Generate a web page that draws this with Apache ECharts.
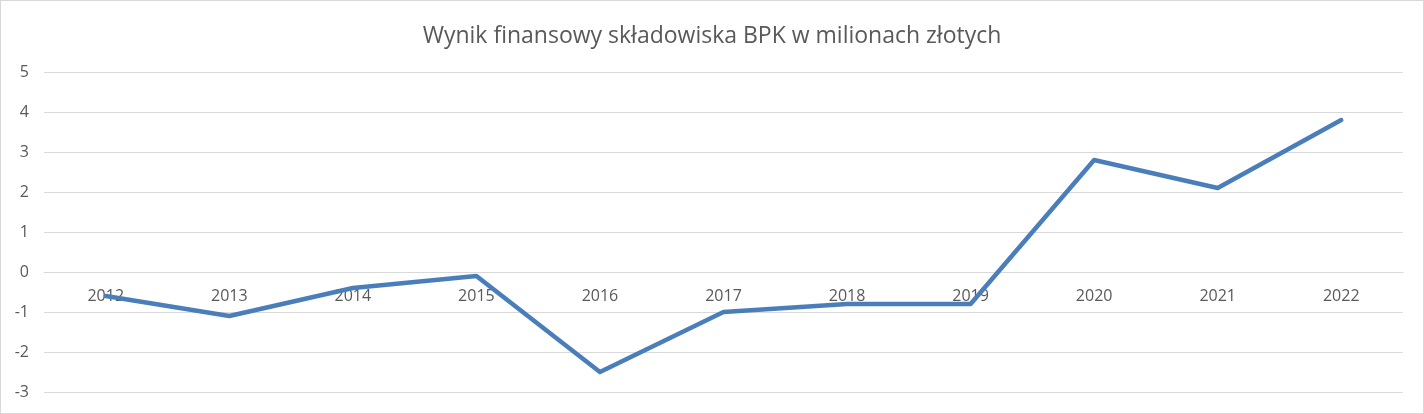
<!DOCTYPE html>
<html>
<head>
<meta charset="utf-8">
<script src="https://cdn.jsdelivr.net/npm/echarts@6/dist/echarts.min.js"></script>
<style>
html,body{margin:0;padding:0;background:#fff;}
#chart{width:1424px;height:414px;box-sizing:border-box;border:1px solid #d9d9d9;}
</style>
</head>
<body>
<div id="chart"></div>
<script>
const years = ['2012','2013','2014','2015','2016','2017','2018','2019','2020','2021','2022'];
const wynik = [-0.6, -1.1, -0.4, -0.1, -2.5, -1.0, -0.8, -0.8, 2.8, 2.1, 3.8];
const titleText = 'Wynik finansowy składowiska BPK w milionach złotych';

const chart = echarts.init(document.getElementById('chart'));
chart.setOption({
  animation: false,
  backgroundColor: '#ffffff',
  title: {
    text: titleText,
    left: 'center',
    top: 19,
    textStyle: { fontFamily: 'Open Sans', fontSize: 23, fontWeight: 'normal', color: '#595959' }
  },
  grid: { left: 43, right: 20, top: 71, bottom: 21, containLabel: false, outerBoundsMode: 'none' },
  xAxis: {
    type: 'category',
    data: years,
    boundaryGap: true,
    offset: -120,
    axisLine: { show: true, onZero: false, lineStyle: { color: '#d9d9d9', width: 1 } },
    axisTick: { show: false },
    axisLabel: { color: '#595959', fontFamily: 'Open Sans', fontSize: 16, margin: 16 },
    splitLine: { show: false }
  },
  yAxis: {
    type: 'value',
    min: -3, max: 5, interval: 1,
    axisLine: { show: false },
    axisTick: { show: false },
    axisLabel: { color: '#595959', fontFamily: 'Open Sans', fontSize: 16, margin: 15 },
    splitLine: { show: true, lineStyle: { color: '#d9d9d9', width: 1 } }
  },
  series: [{
    type: 'line',
    data: wynik,
    symbol: 'none',
    z: 5,
    lineStyle: { color: '#4a7ebb', width: 4.5, join: 'round', cap: 'round' },
    itemStyle: { color: '#4a7ebb' }
  }]
});
</script>
</body>
</html>
